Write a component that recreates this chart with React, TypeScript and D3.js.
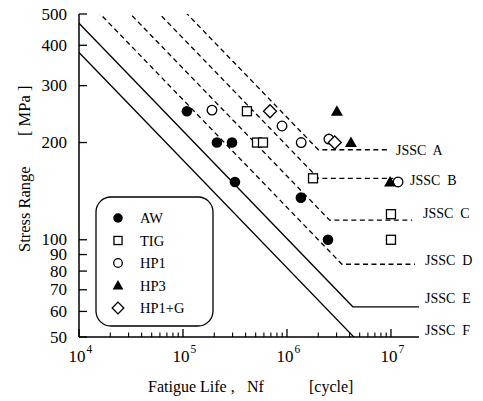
import React from "react";
import * as d3 from "d3";

const W = 483;
const H = 401;

// Axis domains and ticks
const xDomain: [number, number] = [1e4, 1.86e7];
const yDomain: [number, number] = [50, 500];
const xMajorTicks = [1e4, 1e5, 1e6, 1e7];
const xTickExponents = ["4", "5", "6", "7"];
const yTickValues = [500, 400, 300, 200, 100, 90, 80, 70, 60, 50];
const yTickLabels = ["500", "400", "300", "200", "100", "90", "80", "70", "60", "50"];

// JSSC fatigue design classes
const jsscClasses = ["A", "B", "C", "D", "E", "F"];
const jsscStrength2e6 = [190, 155, 125, 100, 80, 65];
const jsscCafl = [190, 155, 115, 84, 62, 46];
const jsscLineEndN = [9.5e6, 1.05e7, 1.6e7, 1.7e7, 1.86e7, 1.86e7];
const jsscDashed = [true, true, true, true, false, false];

// Test series [N, stress range]
const seriesNames = ["AW", "TIG", "HP1", "HP3", "HP1+G"];
const awData: [number, number][] = [
  [1.09e5, 250], [2.12e5, 200], [2.96e5, 200], [3.16e5, 151], [1.36e6, 135], [2.48e6, 100],
];
const tigData: [number, number][] = [
  [4.12e5, 250], [5.15e5, 200], [5.88e5, 200], [1.78e6, 155], [1.0e7, 120], [1.0e7, 100],
];
const hp1Data: [number, number][] = [
  [1.9e5, 252], [8.96e5, 225], [1.37e6, 200], [2.53e6, 205], [1.17e7, 151],
];
const hp3Data: [number, number][] = [
  [3.02e6, 250], [4.12e6, 200], [9.8e6, 151],
];
const hp1gData: [number, number][] = [
  [6.87e5, 250], [2.88e6, 200],
];

// layout
const M = { left: 79, right: 419, top: 14, bottom: 337 };
const labelX = [396, 410, 423, 425, 425, 425];
const labelY = [155, 185, 218, 265, 303, 335];
const FONT = "'Liberation Serif', 'Times New Roman', serif";

function Marker({ kind, cx, cy, legend }: { kind: string; cx: number; cy: number; legend?: boolean }) {
  const k = legend ? 0.9 : 1;
  const sw = 1.3;
  if (kind === "AW") return <circle cx={cx} cy={cy} r={5.3 * k} fill="#000" />;
  if (kind === "TIG") {
    const s = 9 * k;
    return <rect x={cx - s / 2} y={cy - s / 2} width={s} height={s} fill="#fff" stroke="#000" strokeWidth={sw} />;
  }
  if (kind === "HP1") return <circle cx={cx} cy={cy} r={4.8 * k} fill="#fff" stroke="#000" strokeWidth={sw} />;
  if (kind === "HP3") {
    const a = 6 * k;
    return <polygon points={`${cx},${cy - a} ${cx + a},${cy + a * 0.75} ${cx - a},${cy + a * 0.75}`} fill="#000" />;
  }
  const d = 6.5 * k;
  return (
    <polygon
      points={`${cx},${cy - d} ${cx + d},${cy} ${cx},${cy + d} ${cx - d},${cy}`}
      fill="#fff"
      stroke="#000"
      strokeWidth={sw}
    />
  );
}

export default function App() {
  const x = d3.scaleLog().domain(xDomain).range([M.left, M.right]);
  const y = d3.scaleLog().domain(yDomain).range([M.bottom, M.top]);
  const line = d3
    .line<[number, number]>()
    .x((d) => x(d[0]))
    .y((d) => y(d[1]));

  const classLines = jsscClasses.map((c, i) => {
    const s = jsscStrength2e6[i];
    const startN = 1e4;
    const startS = s * Math.pow(2e6 / startN, 1 / 3);
    const kneeN = 2e6 * Math.pow(s / jsscCafl[i], 3);
    const pts: [number, number][] = [
      [startN, startS],
      [kneeN, jsscCafl[i]],
      [jsscLineEndN[i], jsscCafl[i]],
    ];
    return { c, d: line(pts) || "", dashed: jsscDashed[i] };
  });

  const minorTicks = x.ticks().filter((t) => t >= xDomain[0] && t <= xDomain[1] && !xMajorTicks.includes(t));

  const series: [string, [number, number][]][] = [
    ["AW", awData],
    ["TIG", tigData],
    ["HP1", hp1Data],
    ["HP3", hp3Data],
    ["HP1+G", hp1gData],
  ];

  return (
    <svg
      width={W}
      height={H}
      style={{ position: "absolute", left: 0, top: 0, background: "#fff" }}
      fontFamily={FONT}
    >
      <defs>
        <clipPath id="plot">
          <rect x={M.left} y={M.top} width={M.right - M.left + 1} height={M.bottom - M.top} />
        </clipPath>
      </defs>

      {/* class lines */}
      <g clipPath="url(#plot)">
        {classLines.map((l) => (
          <path
            key={l.c}
            d={l.d}
            fill="none"
            stroke="#000"
            strokeWidth={1.3}
            strokeDasharray={l.dashed ? "5,3.5" : undefined}
          />
        ))}
      </g>

      {/* class labels */}
      {jsscClasses.map((c, i) => (
        <text key={c} x={labelX[i]} y={labelY[i]} fontSize={14} style={{ whiteSpace: "pre" }}>
          {`JSSC  ${c}`}
        </text>
      ))}

      {/* axes */}
      <line x1={M.left} x2={M.left} y1={M.top} y2={M.bottom} stroke="#000" strokeWidth={1.5} />
      <line x1={M.left} x2={M.right} y1={M.bottom} y2={M.bottom} stroke="#000" strokeWidth={1.5} />
      {yTickValues.map((v, i) => (
        <g key={v}>
          <line x1={M.left} x2={M.left + 8} y1={y(v)} y2={y(v)} stroke="#000" strokeWidth={1.3} />
          <text x={67} y={y(v) + 5.5} fontSize={17} textAnchor="end">
            {yTickLabels[i]}
          </text>
        </g>
      ))}
      {xMajorTicks.map((v, i) => (
        <g key={v}>
          <line x1={x(v)} x2={x(v)} y1={M.bottom} y2={M.bottom - 8} stroke="#000" strokeWidth={1.3} />
          <text x={x(v) - 2} y={362} fontSize={17} textAnchor="middle">
            10
          </text>
          <text x={x(v) + 7.5} y={353} fontSize={11.5}>
            {xTickExponents[i]}
          </text>
        </g>
      ))}
      {minorTicks.map((v) => (
        <line key={v} x1={x(v)} x2={x(v)} y1={M.bottom} y2={M.bottom - 4.5} stroke="#000" strokeWidth={1.1} />
      ))}

      {/* axis titles */}
      <text x={148} y={392} fontSize={16}>Fatigue Life ,</text>
      <text x={247} y={392} fontSize={16}>Nf</text>
      <text x={309} y={392} fontSize={16}>[cycle]</text>
      <g transform="translate(30,0) rotate(-90)">
        <text x={-252} y={0} fontSize={16.5}>Stress Range</text>
        <text x={-136} y={0} fontSize={16.5} style={{ whiteSpace: "pre" }}>{"[ MPa ]"}</text>
      </g>

      {/* legend */}
      <rect x={96} y={197} width={117} height={129} rx={15} ry={15} fill="#fff" stroke="#000" strokeWidth={1.3} />
      {seriesNames.map((n, i) => (
        <g key={n}>
          <Marker kind={n} cx={118} cy={218 + i * 22.5} legend />
          <text x={140} y={218 + i * 22.5 + 5} fontSize={14.5}>
            {n}
          </text>
        </g>
      ))}

      {/* data points */}
      {series.map(([name, data]) =>
        data.map((d, j) => <Marker key={name + j} kind={name} cx={x(d[0])} cy={y(d[1])} />)
      )}
    </svg>
  );
}
